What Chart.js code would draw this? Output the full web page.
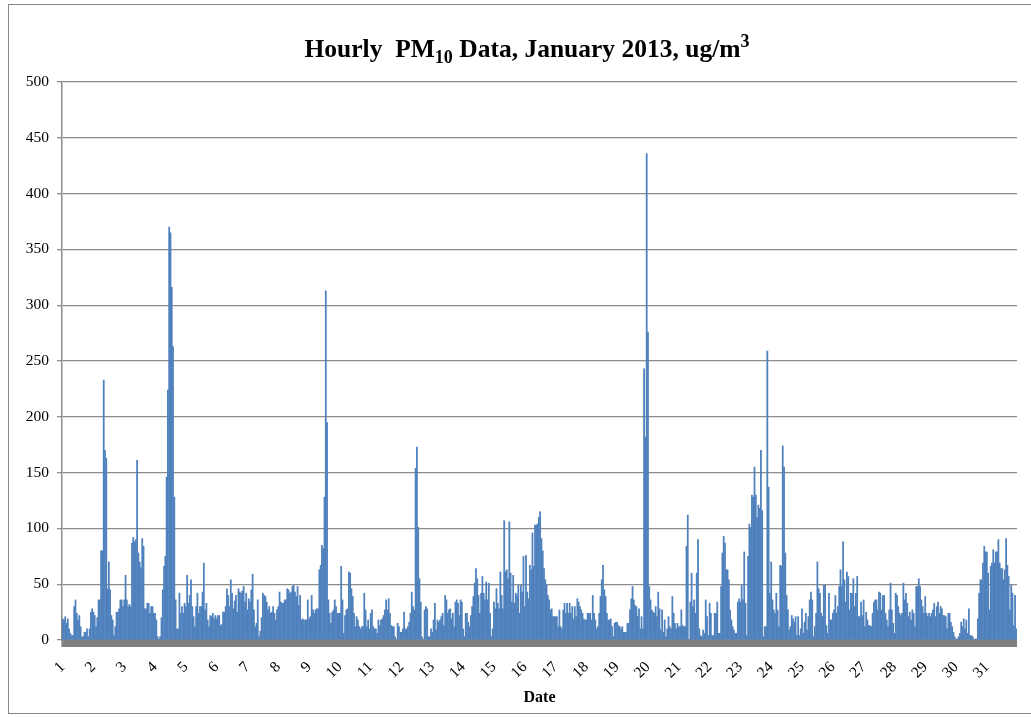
<!DOCTYPE html>
<html>
<head>
<meta charset="utf-8">
<script src="https://cdn.jsdelivr.net/npm/chart.js@4.4.1/dist/chart.umd.min.js"></script>
<style>
  html, body { margin: 0; padding: 0; background: #fff; }
  #marco { position: relative; width: 1031px; height: 717px; overflow: hidden; }
  #borde { position: absolute; left: 8px; top: 4px; width: 1040px; height: 708px; border: 1px solid #868686; }
  #titulo { position: absolute; left: 0; top: 31px; width: 1054px; text-align: center;
            font: bold 25.5px "Liberation Serif", "Times New Roman", serif; color: #000; }
  #titulo sub, #titulo sup { font-size: 18px; }
  canvas { position: absolute; left: 0; top: 0; }
</style>
</head>
<body>
<div id="marco">
  <canvas id="grafico" width="1031" height="717"></canvas>
  <div id="borde"></div>
  <div id="titulo">Hourly&nbsp; PM<sub>10</sub> Data, January 2013, ug/m<sup>3</sup></div>
</div>
<script>
// Etiquetas de los días (eje X)
const dayLabels = ['1','2','3','4','5','6','7','8','9','10','11','12','13','14','15','16',
                   '17','18','19','20','21','22','23','24','25','26','27','28','29','30','31'];

// PM10 horario (ug/m3), 24 valores por día
const jan01 = [19,18,21,15,19,10,6,4,4,30,36,24,18,22,12,3,3,7,7,10,3,10,25,28];
const jan02 = [25,22,12,20,36,36,80,80,233,170,163,46,70,45,22,18,4,12,25,25,28,36,36,30];
const jan03 = [36,58,36,30,32,30,87,92,88,90,161,78,70,65,91,84,28,28,33,33,24,30,30,24];
const jan04 = [24,18,3,1,3,20,45,66,75,146,224,370,365,316,263,128,36,10,10,42,24,30,24,33];
const jan05 = [30,58,33,40,54,30,21,12,30,42,24,30,30,43,69,27,33,18,12,22,21,24,19,22];
const jan06 = [19,22,22,13,14,25,25,30,46,40,30,54,42,28,35,40,25,46,43,42,44,48,34,42];
const jan07 = [27,37,34,45,59,27,12,15,36,3,8,20,42,40,39,34,27,30,24,25,30,24,18,27];
const jan08 = [30,43,34,33,33,36,36,46,45,42,43,48,49,43,39,48,31,40,18,19,18,18,18,36];
const jan09 = [19,21,40,27,24,27,28,28,63,67,85,82,128,313,195,36,24,15,25,27,36,30,24,24];
const jan10 = [24,66,36,6,22,27,28,61,60,46,39,24,12,21,18,12,10,12,12,42,27,12,18,10];
const jan11 = [24,27,12,10,10,6,18,13,18,19,22,27,36,27,37,24,13,12,12,3,0,15,12,7];
const jan12 = [7,10,25,10,10,12,16,24,43,30,27,154,173,101,55,34,3,0,27,30,28,3,3,10];
const jan13 = [7,18,33,9,18,16,18,21,24,13,40,36,24,27,28,19,24,12,34,36,33,22,36,34];
const jan14 = [10,3,24,24,16,12,22,30,39,51,64,55,40,24,42,57,42,36,52,36,51,24,3,10];
const jan15 = [34,28,46,33,28,61,40,28,107,61,63,55,106,60,34,58,33,42,40,49,24,49,43,75];
const jan16 = [30,76,43,37,67,63,96,66,103,103,104,110,115,91,80,64,54,49,40,36,27,28,21,21];
const jan17 = [21,21,12,27,12,10,27,33,24,33,24,33,24,30,19,30,21,37,34,30,27,24,19,18];
const jan18 = [18,24,24,24,18,40,24,18,10,12,24,39,54,67,45,39,24,18,18,19,12,3,15,16];
const jan19 = [16,13,12,10,12,7,7,7,15,15,27,37,48,36,31,30,21,28,10,21,10,243,182,436];
const jan20 = [276,48,36,27,25,24,30,21,43,28,9,27,7,18,3,10,21,12,10,39,24,15,10,15];
const jan21 = [12,12,27,13,12,12,84,112,0,34,60,30,36,24,60,90,10,4,3,9,6,36,21,4];
const jan22 = [33,24,4,4,24,24,34,6,6,48,78,93,87,63,63,54,27,18,12,9,6,6,34,37];
const jan23 = [34,49,36,79,33,4,75,104,101,130,128,155,130,110,121,118,170,116,3,12,12,259,137,42];
const jan24 = [70,36,27,24,42,27,12,67,66,174,155,78,40,27,9,12,22,19,16,21,4,21,4,10];
const jan25 = [28,6,16,24,9,21,36,43,36,3,12,24,70,46,42,24,21,49,49,13,6,42,18,18];
const jan26 = [24,27,40,24,30,48,63,48,88,54,34,61,57,27,42,42,55,30,42,57,21,21,34,22];
const jan27 = [36,12,25,18,13,13,12,24,34,36,36,27,43,42,27,40,40,24,18,12,27,51,27,15];
const jan28 = [6,42,40,30,24,22,24,51,36,42,33,21,25,18,27,24,12,48,48,55,48,36,30,24];
const jan29 = [39,24,21,24,21,24,27,33,21,30,34,24,30,28,22,22,21,10,24,24,16,12,7,3];
const jan30 = [1,1,3,6,16,12,19,10,18,6,28,4,4,3,0,1,1,19,42,54,54,69,84,79];
const jan31 = [79,60,27,66,69,81,69,79,79,90,69,64,64,54,63,91,67,57,27,49,42,13,40,10];

const dias = [jan01, jan02, jan03, jan04, jan05, jan06, jan07, jan08, jan09, jan10, jan11,
              jan12, jan13, jan14, jan15, jan16, jan17, jan18, jan19, jan20, jan21, jan22,
              jan23, jan24, jan25, jan26, jan27, jan28, jan29, jan30, jan31];

// Una categoría por hora; sólo la primera hora de cada día lleva etiqueta
const valores = [];
const etiquetas = [];
dias.forEach((dia, i) => {
    dia.forEach((v, h) => {
        valores.push(v);
        etiquetas.push(h === 0 ? dayLabels[i] : '');
    });
});

const fuente = '"Liberation Serif", "Times New Roman", serif';

// Piso gris bajo el área de datos y prolongación del eje Y
const piso = {
    id: 'piso',
    afterDatasetsDraw(chart) {
        const { ctx, chartArea } = chart;
        ctx.save();
        ctx.fillStyle = '#808080';
        ctx.fillRect(chartArea.left, chartArea.bottom, chartArea.right - chartArea.left, 7);
        ctx.strokeStyle = '#8c8c8c';
        ctx.lineWidth = 1.5;
        ctx.beginPath();
        ctx.moveTo(chartArea.left, chartArea.bottom);
        ctx.lineTo(chartArea.left, chartArea.bottom + 7);
        ctx.stroke();
        ctx.restore();
    }
};

new Chart(document.getElementById('grafico').getContext('2d'), {
    type: 'bar',
    data: {
        labels: etiquetas,
        datasets: [{
            data: valores,
            backgroundColor: '#4f81bd',
            borderWidth: 0,
            barPercentage: 1,
            categoryPercentage: 1,
            inflateAmount: 0.25
        }]
    },
    options: {
        responsive: false,
        animation: false,
        layout: { padding: { left: 10, right: 14, top: 82, bottom: 8 } },
        plugins: {
            legend: { display: false },
            tooltip: { enabled: false },
            title: { display: false }
        },
        scales: {
            x: {
                grid: { display: false },
                border: { display: false },
                ticks: {
                    autoSkip: false,
                    minRotation: 45,
                    maxRotation: 45,
                    padding: 10,
                    color: '#000',
                    font: { family: fuente, size: 15.5 },
                    callback: function (value) {
                        return this.getLabelForValue(value) || null;
                    }
                },
                title: {
                    display: true,
                    text: 'Date',
                    color: '#000',
                    font: { family: fuente, size: 16, weight: 'bold' },
                    padding: { top: 0, bottom: 2 }
                },
                afterFit: (scale) => { scale.height = 69; }
            },
            y: {
                min: 0,
                max: 500,
                ticks: {
                    stepSize: 50,
                    padding: 8,
                    color: '#000',
                    font: { family: fuente, size: 15.5 }
                },
                grid: { color: '#8c8c8c', lineWidth: 1.3, tickLength: 5 },
                border: { color: '#8c8c8c', width: 1.5 },
                afterFit: (scale) => { scale.width = 52; }
            }
        }
    },
    plugins: [piso]
});
</script>
</body>
</html>
